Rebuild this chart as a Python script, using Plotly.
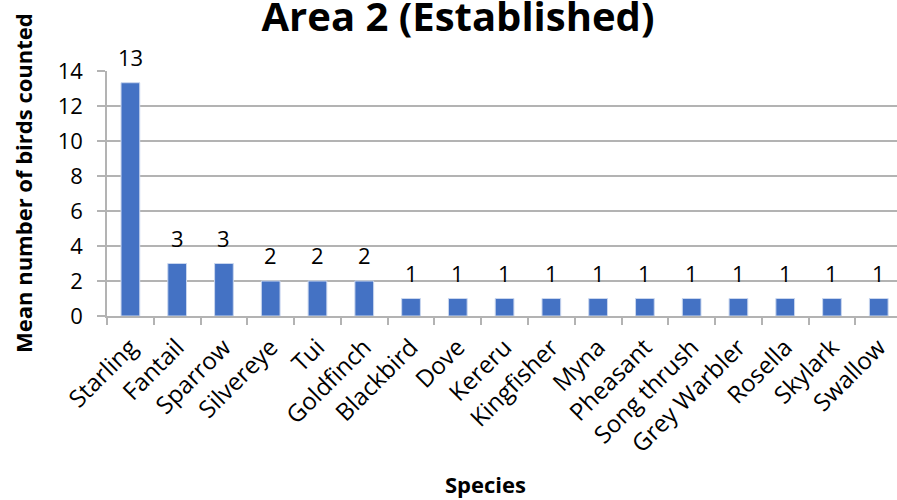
import plotly.graph_objects as go

# Mean bird counts per species
species = ["Starling", "Fantail", "Sparrow", "Silvereye", "Tui", "Goldfinch",
           "Blackbird", "Dove", "Kereru", "Kingfisher", "Myna", "Pheasant",
           "Song thrush", "Grey Warbler", "Rosella", "Skylark", "Swallow"]
mean_counts = [13.33, 3, 3, 2, 2, 2, 1, 1, 1, 1, 1, 1, 1, 1, 1, 1, 1]
y_ticks = [0, 2, 4, 6, 8, 10, 12, 14]

FONT = "Open Sans"
BAR = "#4472C4"
GRID = "#b3b3b3"
W, H = 897, 500
PLOT_L, PLOT_TOP, PLOT_BOT = 107, 71, 316

fig = go.Figure()
fig.add_trace(go.Bar(
    x=species,
    y=mean_counts,
    marker=dict(color=BAR, line=dict(color="#c9d6ee", width=1)),
    width=0.4,
))

# value labels above each bar, rounded to whole birds
for sp, v in zip(species, mean_counts):
    fig.add_annotation(
        x=sp, y=v, text=f"{v:.0f}", showarrow=False,
        yanchor="bottom", yshift=9,
        font=dict(family=FONT, size=22, color="#000000"),
    )

def px_to_paper(px_x, px_y):
    return ((px_x - PLOT_L) / (W - PLOT_L),
            (PLOT_BOT - px_y) / (PLOT_BOT - PLOT_TOP))

# axis titles placed as paper annotations
yt_x, yt_y = px_to_paper(23, 183)
fig.add_annotation(
    xref="paper", yref="paper", x=yt_x, y=yt_y,
    text="<b>Mean number of birds counted</b>", textangle=-90, showarrow=False,
    xanchor="center", yanchor="middle",
    font=dict(family=FONT, size=22, color="#000000"),
)
xt_x, xt_y = px_to_paper(485, 484)
fig.add_annotation(
    xref="paper", yref="paper", x=xt_x, y=xt_y,
    text="<b>Species</b>", showarrow=False,
    xanchor="center", yanchor="middle",
    font=dict(family=FONT, size=22, color="#000000"),
)

fig.update_layout(
    width=W, height=H,
    margin=dict(l=PLOT_L, r=0, t=PLOT_TOP, b=H - PLOT_BOT),
    paper_bgcolor="white", plot_bgcolor="white",
    showlegend=False,
    title=dict(
        text="<b>Area 2 (Established)</b>",
        font=dict(family=FONT, size=40, color="#000000"),
        x=458 / W, xanchor="center", y=1.0, yanchor="top", yref="container",
        pad=dict(t=3),
    ),
    xaxis=dict(
        range=[-0.5, 16.39],
        showgrid=False,
        showline=True, linecolor=GRID, linewidth=1.5,
        ticks="outside", tickson="boundaries", ticklen=7, tickcolor=GRID, tickwidth=1.5,
        tickangle=-45, ticklabelstandoff=6,
        tickfont=dict(family=FONT, size=24, color="#000000"),
    ),
    yaxis=dict(
        range=[0, 14],
        tickvals=y_ticks,
        showgrid=True, gridcolor=GRID, gridwidth=1.5,
        showline=True, linecolor=GRID, linewidth=1.5,
        ticks="outside", ticklen=8, tickcolor=GRID, tickwidth=1.5,
        ticklabelstandoff=10,
        tickfont=dict(family=FONT, size=22, color="#000000"),
        zeroline=False,
    ),
)

fig.write_html("out.html")
